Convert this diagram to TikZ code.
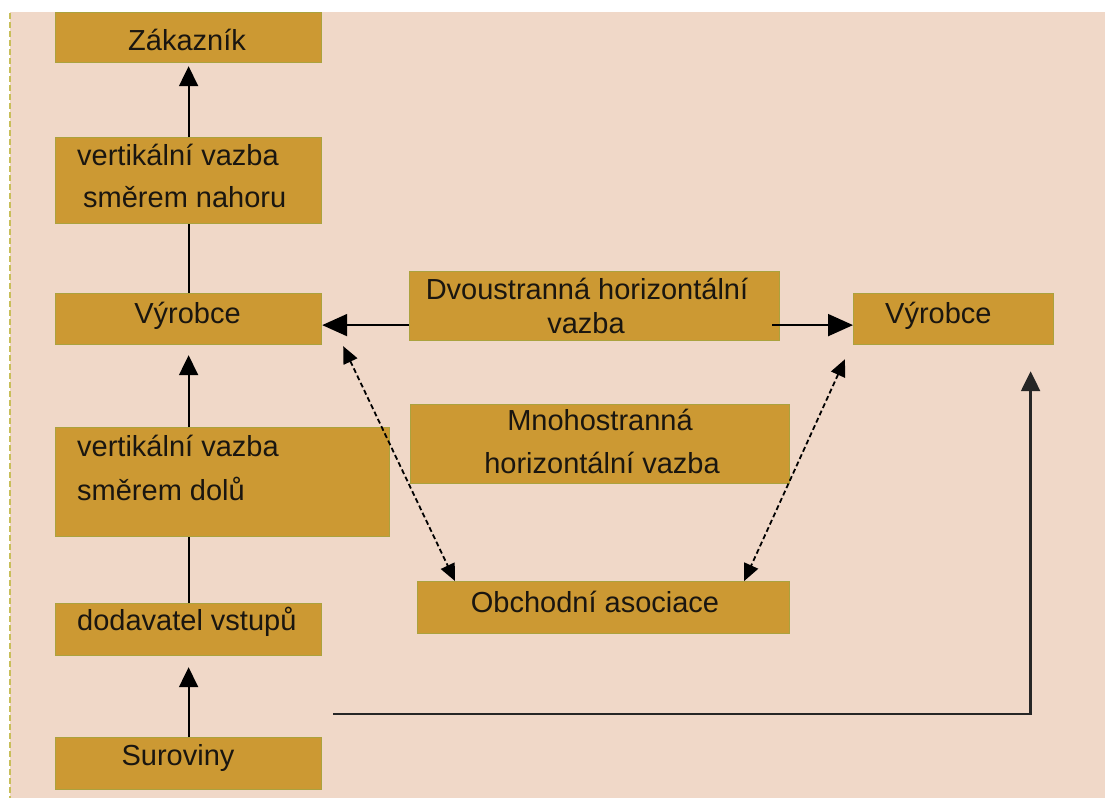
\documentclass[tikz,border=0pt]{standalone}
\usepackage{fontspec}
\setmainfont{Liberation Sans}
\usetikzlibrary{arrows.meta}
\definecolor{bg}{HTML}{F0D8C8}
\definecolor{boxf}{HTML}{CC9933}
\definecolor{boxd}{HTML}{ABA23E}
\definecolor{txtc}{HTML}{1A1610}
\definecolor{dashy}{HTML}{C8BE5A}
\begin{document}
\begin{tikzpicture}[x=1pt,y=-1pt,
 box/.style={draw=boxd, fill=boxf, line width=1.2pt, inner sep=0pt, anchor=north west},
 lbl/.style={text=txtc, font=\fontsize{29}{35}\selectfont, inner sep=0pt},
 conn/.style={line width=2pt, draw=black},
 arr/.style={conn, -{Triangle[length=20pt,width=19pt]}},
 harr/.style={conn, -{Triangle[length=25pt,width=22pt]}},
 darr/.style={line width=1.8pt, draw=black, dash pattern=on 5pt off 3pt, {Triangle[length=17pt,width=15pt]}-{Triangle[length=17pt,width=15pt]}}]
\path[use as bounding box] (0,0) rectangle (1105,798);
\fill[white] (0,0) rectangle (1105,798);
\fill[bg] (10,12) rectangle (1105,798);
\draw[dashy, line width=1.8pt, dash pattern=on 6pt off 3pt] (10,13) -- (10,798);

% boxes
\node[box, minimum width=266pt, minimum height=50pt] (zak) at (55,12) {};
\node[box, minimum width=266pt, minimum height=86pt] (vsn) at (55,137) {};
\node[box, minimum width=266pt, minimum height=51pt] (vl) at (55,293) {};
\node[box, minimum width=334pt, minimum height=109pt] (vsd) at (55,427) {};
\node[box, minimum width=266pt, minimum height=52pt] (dod) at (55,603) {};
\node[box, minimum width=266pt, minimum height=52pt] (sur) at (55,737) {};
\node[box, minimum width=370pt, minimum height=69pt] (dvo) at (409,271) {};
\node[box, minimum width=379pt, minimum height=79pt] (mno) at (410,404) {};
\node[box, minimum width=372pt, minimum height=52pt] (obc) at (417,581) {};
\node[box, minimum width=200pt, minimum height=51pt] (vr) at (853,293) {};

% texts
\node[lbl, anchor=base] (zakt) at (187,50) {Zákazník};
\node[lbl, anchor=base west] (vsn1) at (77,165) {vertikální vazba};
\node[lbl, anchor=base west] (vsn2) at (83,207) {směrem nahoru};
\node[lbl, anchor=base] (vlt) at (187.5,323) {Výrobce};
\node[lbl, anchor=base west] (vsd1) at (77,456) {vertikální vazba};
\node[lbl, anchor=base west] (vsd2) at (77,500) {směrem dolů};
\node[lbl, anchor=base west] (dodt) at (77,630) {dodavatel vstupů};
\node[lbl, anchor=base] (surt) at (178,765) {Suroviny};
\node[lbl, anchor=base] (dvo1) at (587,299) {Dvoustranná horizontální};
\node[lbl, anchor=base] (dvo2) at (586,333) {vazba};
\node[lbl, anchor=base] (mno1) at (600,430) {Mnohostranná};
\node[lbl, anchor=base] (mno2) at (602,473) {horizontální vazba};
\node[lbl, anchor=base] (obct) at (595,612) {Obchodní asociace};
\node[lbl, anchor=base west] (vrt) at (885,323) {Výrobce};

% connectors
\draw[arr] (vsn.north) -- ([yshift=-3pt]zak.south);
\draw[conn] (vsn.south) -- (vl.north);
\draw[arr] (vsd.north -| vl.south) -- ([yshift=-10pt]vl.south);
\draw[conn] (dod.north) -- (dod.north |- vsd.south);
\draw[arr] (sur.north) -- ([yshift=-11pt]dod.south);
\draw[harr] ([yshift=-19pt]dvo.west) -- ([yshift=-6pt]vl.east);
\draw[harr] ([xshift=-8pt,yshift=-19pt]dvo.east) -- ([yshift=-6pt]vr.west);
\draw[darr] ([xshift=21pt,yshift=-1pt]vl.south east) -- ([xshift=38pt]obc.north west);
\draw[darr] ([xshift=-8pt,yshift=-14pt]vr.south west) -- ([xshift=-46pt]obc.north east);
\coordinate (bs) at (333,714);
\draw[arr, draw=black!85, line width=2.4pt] (bs) -| ([xshift=77pt,yshift=-26pt]vr.south);
\end{tikzpicture}
\end{document}
